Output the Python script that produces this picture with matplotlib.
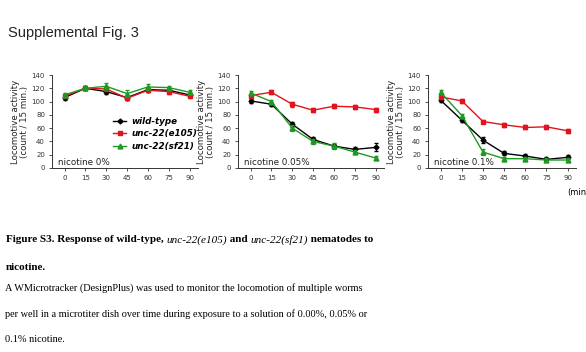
import numpy as np
import matplotlib
matplotlib.use("Agg")
import matplotlib.pyplot as plt

# -------------------------- Data --------------------------
minutes = [0, 15, 30, 45, 60, 75, 90]
strains = ["wild-type", "unc-22(e105)", "unc-22(sf21)"]
panel_labels = ["nicotine 0%", "nicotine 0.05%", "nicotine 0.1%"]

# nicotine 0%
wt_0 = [106, 120, 115, 106, 118, 117, 110]
e105_0 = [108, 120, 119, 105, 117, 115, 108]
sf21_0 = [110, 120, 123, 112, 122, 121, 114]
# nicotine 0.05%
wt_005 = [101, 96, 66, 43, 33, 28, 31]
e105_005 = [109, 114, 96, 87, 93, 92, 88]
sf21_005 = [113, 100, 60, 40, 33, 24, 15]
# nicotine 0.1%
wt_01 = [102, 72, 42, 22, 18, 13, 16]
e105_01 = [107, 101, 70, 65, 61, 62, 56]
sf21_01 = [114, 79, 24, 14, 14, 12, 12]

# error bars (SEM, estimated)
err_wt = [[3, 3, 4, 3, 3, 3, 3], [3, 3, 4, 3, 3, 4, 6], [3, 3, 4, 3, 3, 3, 3]]
err_e105 = [[3, 3, 3, 3, 3, 3, 3], [3, 3, 4, 3, 3, 3, 3], [3, 3, 3, 3, 3, 3, 3]]
err_sf21 = [[3, 3, 5, 5, 4, 3, 3], [3, 3, 5, 4, 4, 3, 3], [3, 3, 5, 3, 3, 3, 3]]

panels = [(wt_0, e105_0, sf21_0), (wt_005, e105_005, sf21_005), (wt_01, e105_01, sf21_01)]

colors = ["black", "#e3121c", "#1e9a22"]
markers = ["D", "s", "^"]
msizes = [2.5, 3.5, 3.5]

# -------------------------- Figure --------------------------
W, H = 586, 352
fig = plt.figure(figsize=(W / 100, H / 100), dpi=100)

def px_axes(x0, x1, ytop, ybot):
    return fig.add_axes([x0 / W, 1 - ybot / H, (x1 - x0) / W, (ybot - ytop) / H])

ax_boxes = [(52, 198), (238, 384), (428, 576)]

for i, (x0, x1) in enumerate(ax_boxes):
    ax = px_axes(x0, x1, 75, 168)
    data = panels[i]
    errs = [err_wt[i], err_e105[i], err_sf21[i]]
    for j in range(3):
        ax.errorbar(minutes, data[j], yerr=errs[j], color=colors[j], marker=markers[j],
                    markersize=msizes[j], linewidth=1, elinewidth=0.6, capsize=1.2,
                    zorder=3 + j)
        # legend handle without error bars
        ax.plot([], [], color=colors[j], marker=markers[j], markersize=msizes[j],
                linewidth=1, label=strains[j])
    ax.set_xlim(-9, 96)
    ax.set_ylim(0, 140)
    ax.set_xticks(minutes)
    ax.set_yticks(range(0, 141, 20))
    ax.tick_params(labelsize=5, length=2.5, width=0.6, pad=2.5, colors="#333333")
    for s in ["top", "right"]:
        ax.spines[s].set_visible(False)
    for s in ["left", "bottom"]:
        ax.spines[s].set_linewidth(0.7)
        ax.spines[s].set_color("#333333")
    ax.set_ylabel("Locomotive activity\n(count / 15 min.)", fontsize=6.2,
                  linespacing=0.95, labelpad=2, color="#222222")
    ax.text(-5, 9, panel_labels[i], fontsize=6.3, color="#222222", va="center")
    if i == 0:
        ax.legend(loc="lower right", bbox_to_anchor=(1.05, 0.1), frameon=False,
                  prop={"size": 6.3, "weight": "bold", "style": "italic"},
                  handlelength=1.5, handletextpad=0.6, labelspacing=0.4)

fig.text(567 / W, 1 - 193 / H, "(min", fontsize=6, va="center", ha="left")

fig.text(8 / W, 1 - 33 / H, "Supplemental Fig. 3", fontsize=10.5, va="center",
         ha="left", family="Liberation Sans", color="#222222")

# -------------------------- Caption --------------------------
renderer = fig.canvas.get_renderer()

def write_pieces(x, y, pieces, size):
    for txt, weight, style in pieces:
        t = fig.text(x / W, 1 - y / H, txt, fontsize=size, family="Liberation Serif",
                     weight=weight, style=style, va="center", ha="left")
        bb = t.get_window_extent(renderer=renderer)
        x += bb.width

write_pieces(6, 240, [("Figure S3. Response of wild-type, ", "bold", "normal"),
                      ("unc-22(e105)", "normal", "italic"),
                      (" and ", "bold", "normal"),
                      ("unc-22(sf21)", "normal", "italic"),
                      (" nematodes to", "bold", "normal")], 8.0)
write_pieces(6, 268, [("nicotine.", "bold", "normal")], 8.0)

body = ["A WMicrotracker (DesignPlus) was used to monitor the locomotion of multiple worms",
        "per well in a microtiter dish over time during exposure to a solution of 0.00%, 0.05% or",
        "0.1% nicotine."]
for k, line in enumerate(body):
    fig.text(5 / W, 1 - (288 + k * 26) / H, line, fontsize=7.4, family="Liberation Serif",
             va="center", ha="left")

fig.savefig("out.png", dpi=100)
